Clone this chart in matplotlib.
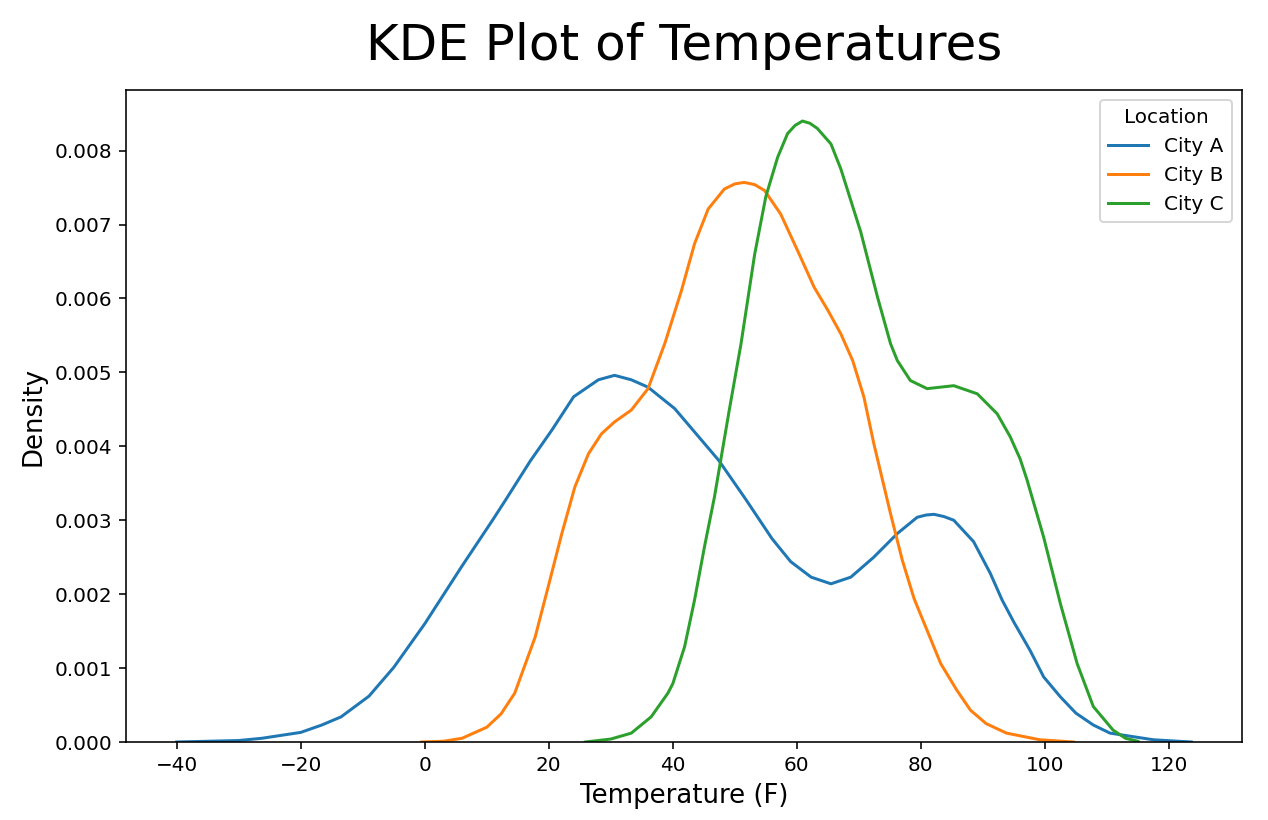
import matplotlib
matplotlib.use("Agg")
import matplotlib.pyplot as plt

# densities (temperature in F, density)
locations = ["City A", "City B", "City C"]

city_a_temps = [-40, -30, -26.3, -20, -16.6, -13.5, -9, -5, 0, 6, 11, 13, 17, 20.5,
                24, 28, 30.6, 33.3, 36, 40.3, 47.4, 51.7, 56, 59, 62.3, 65.5, 68.7,
                72.4, 76.2, 79.4, 80.8, 82.1, 83.7, 85.3, 88.5, 91.2, 93.1, 95, 97.6,
                99.8, 102.5, 105, 107.8, 110.5, 117.5, 123.6]
city_a_density = [0, 0.00002, 0.00005, 0.00013, 0.00023, 0.00034, 0.00062, 0.00101,
                  0.0016, 0.00238, 0.00301, 0.00327, 0.0038, 0.00422, 0.00467,
                  0.0049, 0.00496, 0.0049, 0.0048, 0.00451, 0.00381, 0.00329,
                  0.00275, 0.00244, 0.00223, 0.00214, 0.00223, 0.0025, 0.00282,
                  0.00304, 0.00307, 0.00308, 0.00305, 0.003, 0.00271, 0.00228,
                  0.00192, 0.00162, 0.00124, 0.00088, 0.00061, 0.00039, 0.00023,
                  0.00012, 0.00003, 0]

city_b_temps = [-0.5, 3, 6, 10, 12.3, 14.5, 17.8, 19.9, 22.1, 24.2, 26.4, 28.5, 30.6,
                33.3, 36, 38.7, 41.4, 43.5, 45.7, 48.3, 50, 51.5, 53.2, 54.8, 57.4,
                60.1, 62.8, 65, 67.1, 69, 70.8, 72.4, 75.1, 77, 78.9, 83.2, 85.8, 88,
                90.5, 93.8, 99.2, 104.6]
city_b_density = [0, 0.00001, 0.00005, 0.0002, 0.00038, 0.00066, 0.00142, 0.0021,
                  0.00282, 0.00345, 0.0039, 0.00417, 0.00433, 0.00449, 0.00478,
                  0.00539, 0.00611, 0.00674, 0.00721, 0.00748, 0.00755, 0.00757,
                  0.00754, 0.00746, 0.00714, 0.00665, 0.00615, 0.00584, 0.00552,
                  0.00516, 0.00467, 0.00404, 0.00309, 0.00246, 0.00194, 0.00106,
                  0.0007, 0.00043, 0.00025, 0.00012, 0.00003, 0]

city_c_temps = [25.9, 30, 33.3, 36.5, 39.2, 40, 41.9, 43.5, 45.1, 46.7, 49.1, 51,
                53.2, 55, 56.9, 58.5, 59.7, 60.9, 62.1, 63.3, 65.5, 67.1, 70.3, 73,
                75.1, 76.2, 78.3, 81, 85.3, 89.1, 92.3, 94.4, 96, 97.1, 99.8, 102.5,
                105.2, 107.8, 111, 113, 115]
city_c_density = [0, 0.00004, 0.00012, 0.00034, 0.00066, 0.00079, 0.00129, 0.00192,
                  0.00264, 0.00331, 0.00449, 0.00539, 0.0066, 0.00738, 0.00791,
                  0.00823, 0.00834, 0.0084, 0.00837, 0.0083, 0.00809, 0.00775,
                  0.0069, 0.00602, 0.00539, 0.00516, 0.00489, 0.00478, 0.00482,
                  0.00471, 0.00444, 0.00413, 0.00383, 0.00355, 0.00277, 0.00187,
                  0.00106, 0.00048, 0.00016, 0.00005, 0.00001]

colors = ["#1f77b4", "#ff7f0e", "#2ca02c"]


def kde_chart():
    dpi = 144
    fig = plt.figure(figsize=(1268 / dpi, 820 / dpi), dpi=dpi)
    ax = fig.add_axes([126 / 1268, 1 - 742 / 820, (1242 - 126) / 1268, (742 - 90) / 820])

    series = [(city_a_temps, city_a_density),
              (city_b_temps, city_b_density),
              (city_c_temps, city_c_density)]
    for name, (x, y), c in zip(locations, series, colors):
        ax.plot(x, y, color=c, linewidth=1.5, label=name)

    ax.set_ylim(bottom=0)
    ax.set_title("KDE Plot of Temperatures", fontsize=25, pad=15)
    ax.set_xlabel("Temperature (F)", fontsize=13)
    ax.set_ylabel("Density", fontsize=13)
    ax.legend(title="Location", loc="upper right")

    fig.savefig("out.png", dpi=dpi)


def main():
    kde_chart()


if __name__ == "__main__":
    main()
